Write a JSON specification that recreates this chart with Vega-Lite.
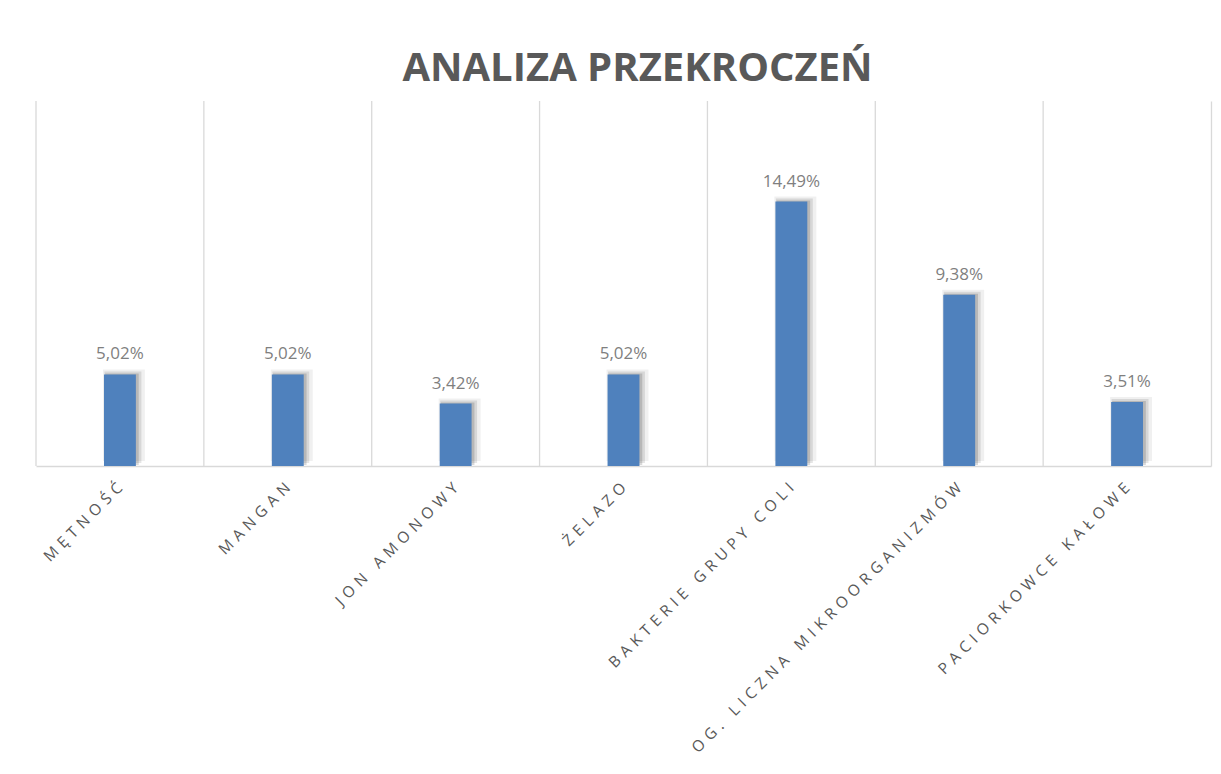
{
  "$schema": "https://vega.github.io/schema/vega-lite/v6.json",
  "width": 1175,
  "height": 365,
  "padding": {"left": 35, "top": 49, "right": 5, "bottom": 0},
  "background": "white",
  "config": {
    "font": "Open Sans",
    "view": {"stroke": null},
    "locale": {"number": {"decimal": ",", "thousands": " ", "grouping": [3], "currency": ["", " zł"]}}
  },
  "title": {
    "text": "ANALIZA PRZEKROCZEŃ",
    "fontSize": 40,
    "fontWeight": "bold",
    "color": "#595959",
    "font": "Open Sans",
    "anchor": "middle",
    "dx": 14,
    "offset": 11
  },
  "data": {
    "values": [
      {"kategoria": "MĘTNOŚĆ", "udzial": 0.0502},
      {"kategoria": "MANGAN", "udzial": 0.0502},
      {"kategoria": "JON AMONOWY", "udzial": 0.0342},
      {"kategoria": "ŻELAZO", "udzial": 0.0502},
      {"kategoria": "BAKTERIE GRUPY COLI", "udzial": 0.1449},
      {"kategoria": "OG. LICZNA MIKROORGANIZMÓW", "udzial": 0.0938},
      {"kategoria": "PACIORKOWCE KAŁOWE", "udzial": 0.0351}
    ]
  },
  "encoding": {
    "x": {
      "field": "kategoria",
      "type": "nominal",
      "sort": null,
      "scale": {"paddingInner": 0, "paddingOuter": 0},
      "axis": {
        "title": null,
        "labelAngle": -45,
        "labelAlign": "right",
        "labelBaseline": "middle",
        "labelFontSize": 15.5,
        "labelColor": "#595959",
        "labelPadding": 19,
        "labelLimit": 600,
        "labelExpr": "join(split(datum.label, ''), '\u2004')",
        "ticks": false,
        "grid": false,
        "domainColor": "#d9d9d9",
        "domainWidth": 1.5
      }
    }
  },
  "layer": [
    {
      "mark": {"type": "rule", "color": "#d9d9d9", "strokeWidth": 1.3},
      "encoding": {
        "x": {"field": "kategoria", "type": "nominal", "sort": null, "bandPosition": 0}
      }
    },
    {
      "mark": {"type": "bar", "color": "#000000", "opacity": 0.06, "width": {"band": 0.25}, "xOffset": 4, "yOffset": -5},
      "encoding": {"y": {"field": "udzial", "type": "quantitative"}}
    },
    {
      "mark": {"type": "bar", "color": "#000000", "opacity": 0.1, "width": {"band": 0.22}, "xOffset": 3, "yOffset": -3},
      "encoding": {"y": {"field": "udzial", "type": "quantitative"}}
    },
    {
      "mark": {"type": "bar", "color": "#000000", "opacity": 0.15, "width": {"band": 0.2}, "xOffset": 2, "yOffset": -1},
      "encoding": {"y": {"field": "udzial", "type": "quantitative"}}
    },
    {
      "mark": {"type": "bar", "color": "#4f81bd", "width": {"band": 0.19}},
      "encoding": {
        "y": {
          "field": "udzial",
          "type": "quantitative",
          "scale": {"domain": [0, 0.2], "nice": false},
          "axis": {
            "orient": "right",
            "title": null,
            "labels": false,
            "ticks": false,
            "grid": false,
            "domain": true,
            "domainColor": "#d9d9d9",
            "domainWidth": 1.3
          }
        }
      }
    },
    {
      "mark": {"type": "text", "baseline": "bottom", "dy": -11, "fontSize": 17, "color": "#7f7f7f", "font": "Open Sans"},
      "encoding": {
        "y": {"field": "udzial", "type": "quantitative"},
        "text": {"field": "udzial", "type": "quantitative", "format": ".2%"}
      }
    }
  ]
}
